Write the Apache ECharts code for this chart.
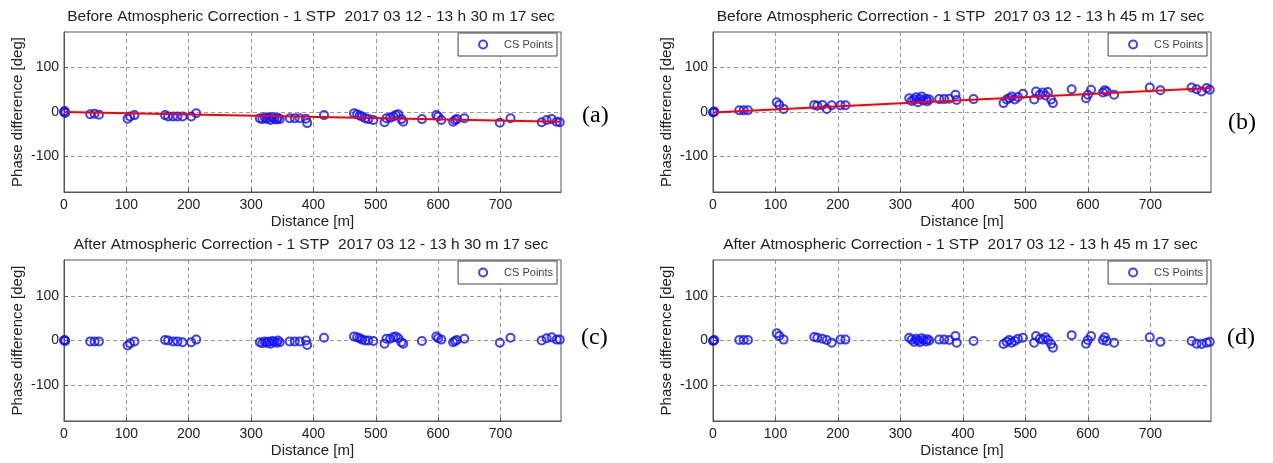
<!DOCTYPE html>
<html>
<head>
<meta charset="utf-8">
<script src="https://cdn.jsdelivr.net/npm/echarts@6/dist/echarts.min.js"></script>
<style>
  html, body { margin: 0; padding: 0; background: #fff; }
  #chart { width: 1273px; height: 463px; }
</style>
</head>
<body>
<div id="chart"></div>
<script>
// Distance of each CS point along the profile [m]
const distances = [0, 1, 2, 42, 49, 56, 102, 106, 113, 162, 167, 175, 182, 190, 204, 212,
  314, 318, 322, 325, 328, 331, 334, 337, 341, 343, 346, 362, 370, 378, 388, 390, 417,
  465, 470, 474, 478, 483, 488, 496, 514, 517, 523, 528, 532, 536, 541, 544, 574,
  597, 600, 605, 624, 627, 630, 642, 699, 716, 766, 774, 782, 790, 795];

// Phase difference [deg], 13 h 30 m 17 sec, before correction
const phaseBefore1330 = [0, 2, -2, -5, -4, -6, -15, -10, -7, -7, -10, -10, -10, -10, -10, -3,
  -14, -16, -12, -15, -13, -18, -11, -15, -17, -13, -16, -14, -14, -14, -15, -25, -7,
  -3, -5, -8, -10, -14, -16, -18, -23, -14, -13, -10, -7, -5, -16, -22, -16,
  -7, -10, -18, -22, -18, -16, -14, -24, -14, -23, -18, -16, -22, -23];

// Phase difference [deg], 13 h 45 m 17 sec, before correction
const phaseBefore1345 = [-1, 0, 1, 4, 4, 4, 22, 16, 7, 16, 14, 16, 7, 15, 15, 15,
  31, 25, 28, 33, 22, 29, 35, 26, 30, 24, 28, 29, 29, 30, 39, 27, 29,
  20, 28, 31, 35, 28, 34, 41, 28, 46, 39, 44, 37, 45, 28, 20, 51,
  31, 39, 50, 44, 49, 46, 39, 55, 49, 55, 51, 46, 54, 50];

// Phase difference [deg], 13 h 30 m 17 sec, after correction
const phaseAfter1330 = [0, 1, -1, -2, -2, -2, -11, -6, -2, 1, 0, -2, -2, -4, -4, 2,
  -4, -6, -2, -5, -3, -7, -1, -3, -5, 0, -4, -2, -2, -2, 0, -10, 6,
  9, 7, 5, 2, 0, 0, -1, -7, 4, 4, 7, 9, 5, -4, -7, -1,
  9, 5, 2, -4, -1, 1, 4, -5, 6, 0, 5, 7, 2, 2];

// Phase difference [deg], 13 h 45 m 17 sec, after correction
const phaseAfter1345 = [-1, 0, 1, 1, 1, 1, 16, 10, 2, 8, 6, 4, 1, -5, 2, 2,
  6, 2, -3, 4, 0, -4, 5, 1, -2, 3, 0, 2, 2, 1, 10, -5, -1,
  -8, -3, 1, -5, -1, 4, 6, -5, 10, 4, 2, 7, 1, -8, -16, 12,
  -7, 1, 10, 1, 7, -1, -5, 7, -3, -1, -7, -8, -5, -3];

// Linear trend end points [distance, deg] for the uncorrected acquisitions
const trend1330 = [[0, 0], [797, -22]];
const trend1345 = [[0, -1], [797, 54]];

const xTicks = [0, 100, 200, 300, 400, 500, 600, 700];
const yTicks = [-100, 0, 100];

const panelTitles = [
  'Before Atmospheric Correction - 1 STP  2017 03 12 - 13 h 30 m 17 sec',
  'Before Atmospheric Correction - 1 STP  2017 03 12 - 13 h 45 m 17 sec',
  'After Atmospheric Correction - 1 STP  2017 03 12 - 13 h 30 m 17 sec',
  'After Atmospheric Correction - 1 STP  2017 03 12 - 13 h 45 m 17 sec'
];
const panelTags = ['(a)', '(b)', '(c)', '(d)'];
const panelPhases = [phaseBefore1330, phaseBefore1345, phaseAfter1330, phaseAfter1345];
const panelTrends = [trend1330, trend1345, null, null];

const FONT = '"Liberation Sans", Arial, Helvetica, sans-serif';
const BLUE = '#1010ff';
const grids = [
  { left: 64, top: 32, width: 497, height: 160 },
  { left: 713, top: 32, width: 498, height: 160 },
  { left: 64, top: 260, width: 497, height: 161 },
  { left: 713, top: 260, width: 498, height: 161 }
];
const tagPos = [
  { left: 577, top: 99 },
  { left: 1223, top: 106 },
  { left: 576, top: 321 },
  { left: 1222, top: 321 }
];

const option = {
  backgroundColor: '#ffffff',
  animation: false,
  title: [],
  legend: [],
  grid: [],
  xAxis: [],
  yAxis: [],
  series: []
};

grids.forEach((g, i) => {
  option.grid.push({
    left: g.left, top: g.top, width: g.width, height: g.height,
    show: true, borderColor: '#555', borderWidth: 1, backgroundColor: '#fff'
  });
  option.title.push({
    text: panelTitles[i],
    left: g.left + g.width / 2 - 6.5,
    top: g.top - 28,
    textAlign: 'center',
    textStyle: { fontFamily: FONT, fontSize: 15.5, fontWeight: 'normal', color: '#222' }
  });
  option.title.push({
    text: panelTags[i],
    left: tagPos[i].left,
    top: tagPos[i].top,
    textStyle: { fontFamily: '"Liberation Serif", "Times New Roman", serif', fontSize: 24, fontWeight: 'normal', color: '#000' }
  });
  option.legend.push({
    data: ['CS Points'],
    right: 1273 - (g.left + g.width) + 4,
    top: g.top + 1,
    orient: 'vertical',
    backgroundColor: '#fff',
    borderColor: '#444',
    borderWidth: 1,
    borderRadius: 0,
    padding: [6, 4, 6, 20],
    itemWidth: 8,
    itemHeight: 8,
    selectedMode: false,
    icon: 'circle',
    itemStyle: { color: 'rgba(0,0,0,0)', borderColor: BLUE, borderWidth: 2 },
    textStyle: { fontFamily: FONT, fontSize: 11, color: '#444', padding: [0, 0, 0, 12] }
  });
  option.xAxis.push({
    gridIndex: i, type: 'value', min: 0, max: 797,
    name: 'Distance [m]', nameLocation: 'middle', nameGap: 22,
    nameTextStyle: { fontFamily: FONT, fontSize: 15, color: '#222' },
    axisLine: { show: true, onZero: false, lineStyle: { color: '#555', width: 1 } },
    axisTick: { show: true, inside: true, length: 4, customValues: xTicks, lineStyle: { color: '#555' } },
    axisLabel: { customValues: xTicks, fontFamily: FONT, fontSize: 14, color: '#222', margin: 6 },
    splitLine: { show: true, lineStyle: { color: '#999', type: [4, 3], width: 1 } }
  });
  option.yAxis.push({
    gridIndex: i, type: 'value', min: -180, max: 180,
    name: 'Phase difference [deg]', nameLocation: 'middle', nameGap: 39, nameRotate: 90,
    nameTextStyle: { fontFamily: FONT, fontSize: 15, color: '#222' },
    axisLine: { show: true, onZero: false, lineStyle: { color: '#555', width: 1 } },
    axisTick: { show: true, inside: true, length: 4, customValues: yTicks, lineStyle: { color: '#555' } },
    axisLabel: { customValues: yTicks, fontFamily: FONT, fontSize: 14, color: '#222', margin: 5 },
    splitLine: { show: true, lineStyle: { color: '#999', type: [4, 3], width: 1 } }
  });
  option.series.push({
    name: 'CS Points',
    type: 'scatter',
    xAxisIndex: i, yAxisIndex: i,
    symbol: 'circle',
    symbolSize: 8,
    clip: false,
    itemStyle: { color: 'rgba(0,0,0,0)', borderColor: BLUE, borderWidth: 2 },
    data: distances.map((d, k) => [d, panelPhases[i][k]]),
    z: 3
  });
  if (panelTrends[i]) {
    option.series.push({
      name: 'Trend',
      type: 'line',
      xAxisIndex: i, yAxisIndex: i,
      showSymbol: false,
      lineStyle: { color: '#ff0000', width: 2 },
      data: panelTrends[i],
      z: 4
    });
  }
});

const chart = echarts.init(document.getElementById('chart'), null, { renderer: 'canvas' });
chart.setOption(option);
</script>
</body>
</html>
